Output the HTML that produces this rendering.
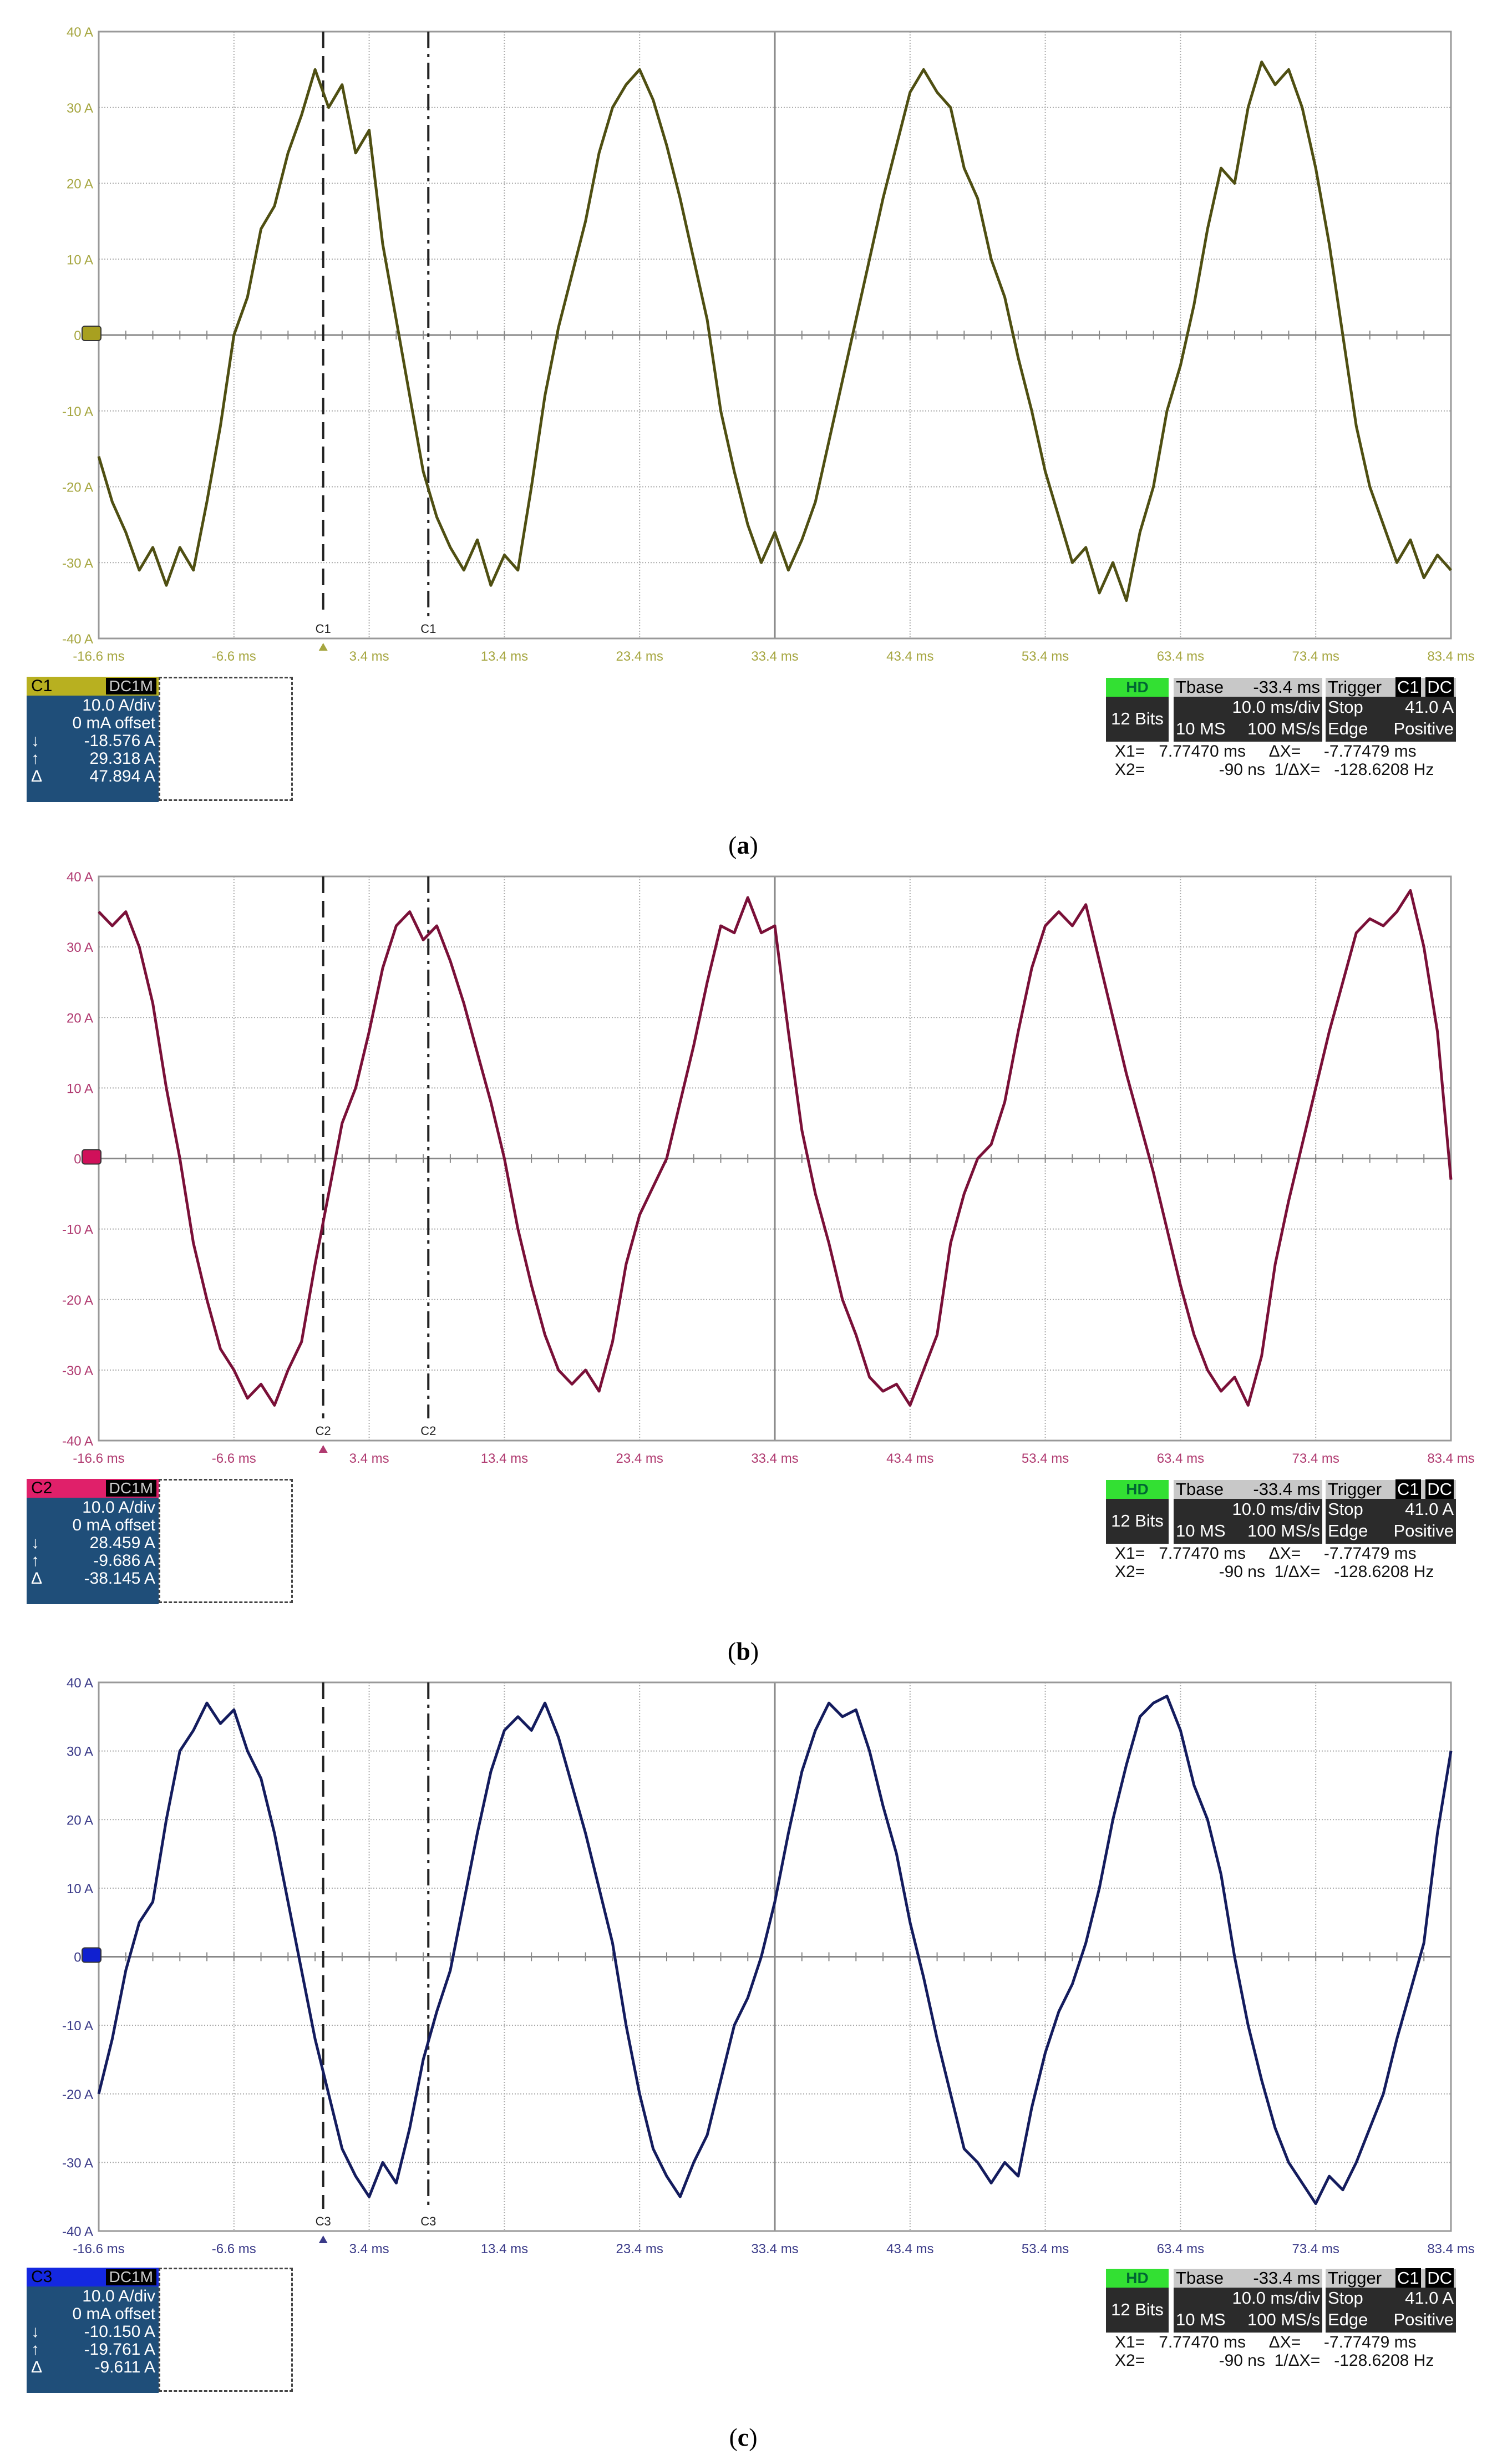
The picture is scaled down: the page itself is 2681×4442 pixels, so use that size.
<!DOCTYPE html>
<html><head><meta charset="utf-8"><style>
body{margin:0;background:#fff;width:2681px;height:4442px;position:relative;overflow:hidden;font-family:"Liberation Sans",sans-serif}
.abs{position:absolute}
.info{position:absolute;width:238px;font-size:30px;color:#fff}
.info .hd{height:34px;display:flex;justify-content:space-between;align-items:center;padding:0 4px 0 8px}
.info .hd span.tag{background:#000;color:#ccc;padding:0 6px;font-size:28px;line-height:30px}
.info .bd{background:#1f4e79;padding:2px 6px;line-height:32px;position:relative;height:188px}
.info .bd div{text-align:right}
.info .bd .sym{position:absolute;left:8px}
.dash{position:absolute;border:3px dashed #444;width:236px}
.rp{position:absolute;font-size:31px}
.blk{position:absolute;background:#2b2b2b;color:#fff}
.gry{position:absolute;background:#c8c8c8;color:#000}
.cap{position:absolute;font-family:"Liberation Serif",serif;font-size:46px;width:200px;text-align:center;margin-left:-100px}
</style></head><body>
<svg id="chart" width="2681" height="4442" style="position:absolute;left:0;top:0"></svg>
<div id="ui"></div>
<script>
const xTicks=["-16.6 ms","-6.6 ms","3.4 ms","13.4 ms","23.4 ms","33.4 ms","43.4 ms","53.4 ms","63.4 ms","73.4 ms","83.4 ms"];
const yTicks=["40 A","30 A","20 A","10 A","0 A","-10 A","-20 A","-30 A","-40 A"];
const tStart=-16.6, tStep=1;
const curA=[-16,-22,-26,-31,-28,-33,-28,-31,-22,-12,0,5,14,17,24,29,35,30,33,24,27,12,2,-8,-18,-24,-28,-31,-27,-33,-29,-31,-20,-8,1,8,15,24,30,33,35,31,25,18,10,2,-10,-18,-25,-30,-26,-31,-27,-22,-14,-6,2,10,18,25,32,35,32,30,22,18,10,5,-3,-10,-18,-24,-30,-28,-34,-30,-35,-26,-20,-10,-4,4,14,22,20,30,36,33,35,30,22,12,0,-12,-20,-25,-30,-27,-32,-29,-31];
const curB=[35,33,35,30,22,10,0,-12,-20,-27,-30,-34,-32,-35,-30,-26,-15,-5,5,10,18,27,33,35,31,33,28,22,15,8,0,-10,-18,-25,-30,-32,-30,-33,-26,-15,-8,-4,0,8,16,25,33,32,37,32,33,18,4,-5,-12,-20,-25,-31,-33,-32,-35,-30,-25,-12,-5,0,2,8,18,27,33,35,33,36,28,20,12,5,-2,-10,-18,-25,-30,-33,-31,-35,-28,-15,-6,2,10,18,25,32,34,33,35,38,30,18,-3];
const curC=[-20,-12,-2,5,8,20,30,33,37,34,36,30,26,18,8,-2,-12,-20,-28,-32,-35,-30,-33,-25,-15,-8,-2,8,18,27,33,35,33,37,32,25,18,10,2,-10,-20,-28,-32,-35,-30,-26,-18,-10,-6,0,8,18,27,33,37,35,36,30,22,15,5,-3,-12,-20,-28,-30,-33,-30,-32,-22,-14,-8,-4,2,10,20,28,35,37,38,33,25,20,12,0,-10,-18,-25,-30,-33,-36,-32,-34,-30,-25,-20,-12,-5,2,18,30];
const cursorT=[0,7.7747];
const NS="http://www.w3.org/2000/svg";
const svg=document.getElementById('chart');
function mk(tag,at,parent){const e=document.createElementNS(NS,tag);for(const k in at)e.setAttribute(k,at[k]);(parent||svg).appendChild(e);return e;}
const panels=[
 {id:'a',top:57,bot:1151,data:curA,col:'#4f4f12',lab:'#a6a640',ch:'C1',chc:'#a8a020'},
 {id:'b',top:1580,bot:2597,data:curB,col:'#7a1038',lab:'#b03a70',ch:'C2',chc:'#d0105a'},
 {id:'c',top:3033,bot:4022,data:curC,col:'#141c5e',lab:'#3a3a88',ch:'C3',chc:'#1020d0'}];
const L=178,R=2616;
panels.forEach(p=>{
 const g=mk('g',{});
 
 
 const xs=t=>L+(t-tStart)/100*(R-L);
 const ys=v=>p.top+(40-v)/80*(p.bot-p.top);
 const dy=(p.bot-p.top)/8, dx=(R-L)/10;
 for(let i=1;i<10;i++){const l=mk('line',{x1:L+i*dx,x2:L+i*dx,y1:p.top,y2:p.bot,stroke:'#aaa','stroke-width':2,'stroke-dasharray':'2,3'},g);}
 for(let i=1;i<8;i++){if(i==4)continue;const l=mk('line',{x1:L,x2:R,y1:p.top+i*dy,y2:p.top+i*dy,stroke:'#aaa','stroke-width':2,'stroke-dasharray':'2,3'},g);}
 const ax=mk('line',{x1:L,x2:R,y1:ys(0),y2:ys(0),stroke:'#888','stroke-width':3},g);
 
 const cx=(L+R)/2;
 const ay=mk('line',{x1:cx,x2:cx,y1:p.top,y2:p.bot,stroke:'#888','stroke-width':3},g);
 
 for(let i=1;i<50;i++){const x=L+i*dx/5;mk('line',{x1:x,x2:x,y1:ys(0)-8,y2:ys(0)+8,stroke:'#888','stroke-width':2},g);}
 const fr=mk('rect',{x:L,y:p.top,width:R-L,height:p.bot-p.top,fill:'none',stroke:'#999','stroke-width':3},g);
 
 yTicks.forEach((s,i)=>{const t=mk('text',{x:L-10,y:p.top+i*dy+9,'text-anchor':'end','font-size':24,fill:p.lab,'font-family':'Liberation Sans'},g);t.textContent=s;});
 xTicks.forEach((s,i)=>{const t=mk('text',{x:L+i*dx,y:p.bot+40,'text-anchor':'middle','font-size':24,fill:p.lab,'font-family':'Liberation Sans'},g);t.textContent=s;});
 cursorT.forEach((t,i)=>{const x=xs(t);const l=mk('line',{x1:x,x2:x,y1:p.top,y2:p.bot-40,stroke:'#222','stroke-width':4,'stroke-dasharray':i==0?'30,14':'30,10,6,10'},g);
  const tt=mk('text',{x:x,y:p.bot-10,'text-anchor':'middle','font-size':22,fill:'#222','font-family':'Liberation Sans'},g);tt.textContent=p.ch;});
 const tri=mk('polygon',{points:`${xs(0)-8},${p.bot+22} ${xs(0)+8},${p.bot+22} ${xs(0)},${p.bot+8}`,fill:p.lab},g);
 
 const mrk=mk('rect',{x:L-30,y:ys(0)-16,width:34,height:26,rx:5,fill:p.chc,stroke:'#333','stroke-width':2},g);
 
 const pts=p.data.map((v,i)=>xs(tStart+i*tStep).toFixed(1)+','+ys(v).toFixed(1)).join(' ');
 const wl=mk('polyline',{points:pts,fill:'none',stroke:p.col,'stroke-width':5,'stroke-linejoin':'round'},g);
 
});
const boxes=[
 {top:1220,ch:'C1',hc:'#b8b020',tc:'#000',v:['-18.576 A','29.318 A','47.894 A'],cap:'a',capy:1525},
 {top:2666,ch:'C2',hc:'#e0206a',tc:'#000',v:['28.459 A','-9.686 A','-38.145 A'],cap:'b',capy:2978},
 {top:4088,ch:'C3',hc:'#1428e0',tc:'#000',v:['-10.150 A','-19.761 A','-9.611 A'],cap:'c',capy:4395}];
const ui=document.getElementById('ui');
boxes.forEach(b=>{
 ui.insertAdjacentHTML('beforeend',
 `<div class="info" style="left:48px;top:${b.top}px">
  <div class="hd" style="background:${b.hc};color:${b.tc}"><span>${b.ch}</span><span class="tag">DC1M</span></div>
  <div class="bd"><div>10.0 A/div</div><div>0 mA offset</div><div><span class="sym">↓</span>${b.v[0]}</div><div><span class="sym">↑</span>${b.v[1]}</div><div><span class="sym">Δ</span>${b.v[2]}</div></div></div>
 <div class="dash" style="left:286px;top:${b.top}px;height:${218}px"></div>
 <div class="rp" style="left:1994px;top:${b.top+2}px;width:113px;height:115px;background:#2b2b2b">
  <div style="background:#33e033;height:34px;text-align:center;color:#063;font-weight:bold;font-size:28px;line-height:34px">HD</div>
  <div style="color:#fff;text-align:center;line-height:80px">12 Bits</div></div>
 <div class="rp" style="left:2116px;top:${b.top+2}px;width:268px;height:115px;background:#2b2b2b;color:#fff">
  <div style="background:#c8c8c8;color:#000;height:34px;line-height:34px;display:flex;justify-content:space-between;padding:0 4px"><span>Tbase</span><span>-33.4 ms</span></div>
  <div style="text-align:right;padding:0 4px;line-height:38px">10.0 ms/div</div>
  <div style="display:flex;justify-content:space-between;padding:0 4px;line-height:40px"><span>10 MS</span><span>100 MS/s</span></div></div>
 <div class="rp" style="left:2390px;top:${b.top+2}px;width:235px;height:115px;background:#2b2b2b;color:#fff">
  <div style="background:#c8c8c8;color:#000;height:34px;line-height:34px;display:flex;justify-content:space-between;padding:0 4px"><span>Trigger</span><span><span style="background:#000;color:#fff;padding:0 3px">C1</span> <span style="background:#000;color:#fff;padding:0 3px">DC</span></span></div>
  <div style="display:flex;justify-content:space-between;padding:0 4px;line-height:38px"><span>Stop</span><span>41.0 A</span></div>
  <div style="display:flex;justify-content:space-between;padding:0 4px;line-height:40px"><span>Edge</span><span>Positive</span></div></div>
 <div class="rp" style="left:2010px;top:${b.top+118}px;line-height:33px;color:#111;white-space:pre;font-size:30px">X1=   7.77470 ms     ΔX=     -7.77479 ms
X2=                -90 ns  1/ΔX=   -128.6208 Hz</div>
 <div class="cap" style="left:1340px;top:${b.capy-28}px">(<b>${b.cap}</b>)</div>`);
});
</script>
</body></html>
